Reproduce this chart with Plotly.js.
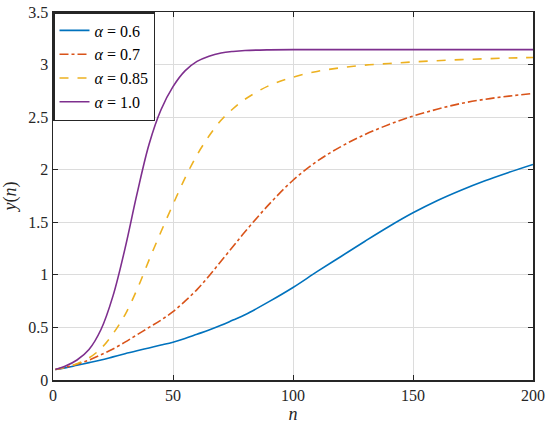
<!DOCTYPE html>
<html>
<head>
<meta charset="utf-8">
<script src="https://cdn.plot.ly/plotly-3.0.1.min.js"></script>
<style>html,body{margin:0;padding:0;background:#fff;}#chart{width:550px;height:427px;}
#fontwarm{position:absolute;left:-2000px;top:0;font-family:'Liberation Serif';font-size:16px;}
#fontwarm i{font-style:italic;}</style>
</head>
<body>
<div id="fontwarm">0123456789. y(n) <i>α y n</i> = 0.85</div>
<div id="chart"></div>
<script>
const nValues = [1,5,10,15,20,25,30,35,40,45,50,55,60,65,70,75,80,90,100,110,120,130,140,150,160,170,180,190,200];
const y06 = [0.10,0.115,0.14,0.165,0.19,0.22,0.25,0.278,0.305,0.332,0.36,0.395,0.435,0.475,0.52,0.57,0.62,0.745,0.88,1.03,1.175,1.32,1.46,1.59,1.705,1.805,1.895,1.975,2.05];
const y07 = [0.10,0.12,0.15,0.19,0.24,0.295,0.36,0.43,0.50,0.57,0.65,0.75,0.86,0.99,1.13,1.27,1.41,1.67,1.90,2.08,2.22,2.335,2.43,2.51,2.575,2.63,2.67,2.70,2.725];
const y085 = [0.10,0.12,0.155,0.21,0.30,0.44,0.62,0.86,1.14,1.41,1.67,1.92,2.14,2.32,2.47,2.58,2.67,2.80,2.88,2.935,2.97,2.995,3.01,3.025,3.037,3.047,3.055,3.062,3.067];
const y10 = [0.10,0.13,0.19,0.29,0.48,0.80,1.25,1.77,2.24,2.57,2.79,2.94,3.03,3.08,3.11,3.125,3.134,3.14,3.142,3.142,3.142,3.142,3.142,3.142,3.142,3.142,3.142,3.142,3.142];
const seriesNames = ['<i>α</i> = 0.6','<i>α</i> = 0.7','<i>α</i> = 0.85','<i>α</i> = 1.0'];
const seriesColors = ['#0072BD','#D95319','#EDB120','#7E2F8E'];
const seriesDashes = ['solid','dashdot','dash','solid'];
const seriesValues = [y06,y07,y085,y10];

const traces = seriesValues.map(function(ys,i){ return {
  x:nValues, y:ys, type:'scatter', mode:'lines', name:seriesNames[i],
  line:{color:seriesColors[i], width:1.6, dash:seriesDashes[i], shape:'spline', smoothing:1}
};});

const layout = {
  width:550, height:427,
  margin:{l:53, r:17, t:12, b:47},
  paper_bgcolor:'#fff', plot_bgcolor:'#fff',
  font:{family:'Liberation Serif', size:16, color:'#262626'},
  showlegend:true,
  legend:{x:0, y:1, xanchor:'left', yanchor:'top', bgcolor:'#fff', bordercolor:'#262626', borderwidth:1.5,
          tracegroupgap:0, itemwidth:30, font:{color:'#000'}},
  xaxis:{range:[0,200], dtick:50, tick0:0,
        showline:true, linecolor:'#262626', linewidth:1.5, mirror:'ticks',
        ticks:'inside', ticklen:5, tickcolor:'#262626', tickwidth:1,
        showgrid:true, gridcolor:'#dcdcdc', gridwidth:1, zeroline:false,
        title:{text:'<i>n</i>', font:{size:18}, standoff:4}},
  yaxis:{range:[0,3.5], dtick:0.5, tick0:0,
        showline:true, linecolor:'#262626', linewidth:1.5, mirror:'ticks',
        ticks:'inside', ticklen:5, tickcolor:'#262626', tickwidth:1,
        showgrid:true, gridcolor:'#dcdcdc', gridwidth:1, zeroline:false,
        title:{text:'<i>y</i>(<i>n</i>)', font:{size:18}, standoff:8}}
};
Plotly.newPlot('chart', traces, layout, {displayModeBar:false, staticPlot:true});
</script>
</body>
</html>
